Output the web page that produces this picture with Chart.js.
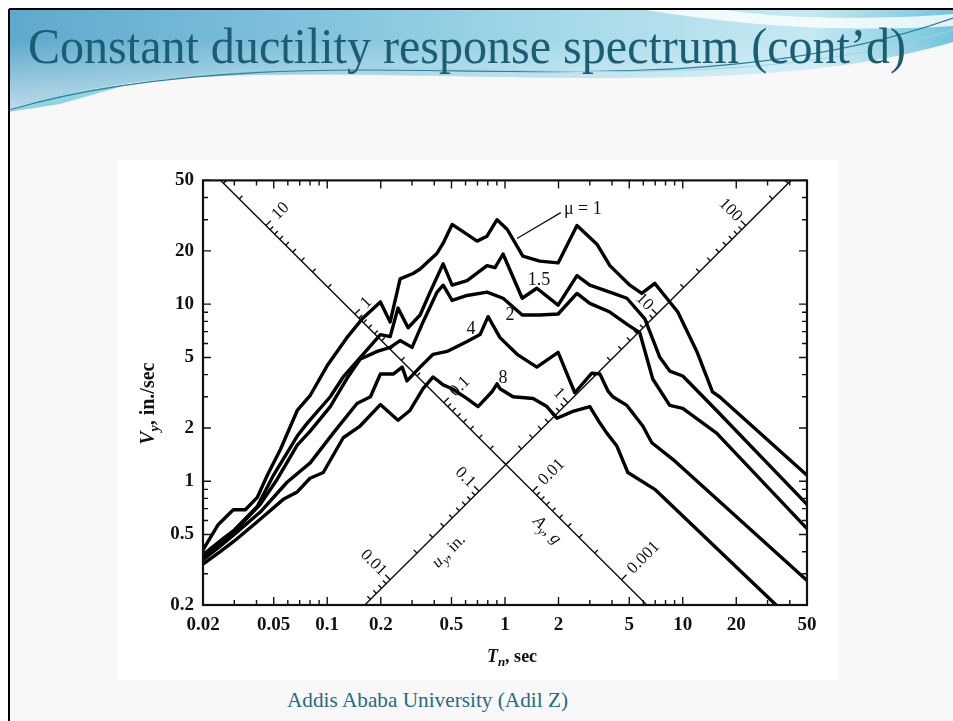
<!DOCTYPE html>
<html>
<head>
<meta charset="utf-8">
<title>Constant ductility response spectrum</title>
<script src="https://cdn.jsdelivr.net/npm/chart.js@4.4.0/dist/chart.umd.min.js"></script>
<style>
  html, body { margin: 0; padding: 0; }
  body { width: 953px; height: 721px; position: relative; overflow: hidden; background: #fff; }
  #slide { position: absolute; left: 0; top: 0; }
  #figure { position: absolute; left: 118px; top: 160px; width: 720px; height: 520px; background: #fff; }
</style>
</head>
<body>
<svg id="slide" width="953" height="721" viewBox="0 0 953 721">
  <defs>
    <linearGradient id="bandFill" x1="0" y1="0" x2="1" y2="0">
      <stop offset="0" stop-color="#5ea9cc"/>
      <stop offset="0.3" stop-color="#7fc0dc"/>
      <stop offset="0.6" stop-color="#a7dae9"/>
      <stop offset="0.85" stop-color="#c6e9f1"/>
      <stop offset="1" stop-color="#72c4dd"/>
    </linearGradient>
    <linearGradient id="bandFade" x1="0" y1="0" x2="0" y2="1">
      <stop offset="0" stop-color="#ffffff" stop-opacity="0"/>
      <stop offset="1" stop-color="#ffffff" stop-opacity="0.6"/>
    </linearGradient>
  </defs>
  <rect x="9" y="9" width="944" height="712" fill="#f8f8f8"/>
  <path d="M9,9 H953 V42 C880,64 780,78 620,78 C460,78 300,70 180,78 C110,83 50,95 9,112 Z" fill="url(#bandFill)"/>
  <path d="M9,40 H953 V42 C880,64 780,78 620,78 C460,78 300,70 180,78 C110,83 50,95 9,112 Z" fill="url(#bandFade)"/>
  <path d="M640,9 C720,22 820,34 953,26 V14 C850,22 760,16 720,9 Z" fill="#ffffff" opacity="0.8"/>
  <path d="M9,112 C40,98 80,90 130,84 L60,104 Z" fill="#8fd6e4"/>
  <path d="M9,110 C90,86 200,70 360,70 C560,70 760,86 953,18" fill="none" stroke="#2f7f98" stroke-width="1.2"/>
  <path d="M20,104 C120,78 260,64 420,68 C620,74 800,78 953,30" fill="none" stroke="#a3d3e0" stroke-width="1"/>
  <line x1="9" y1="9" x2="953" y2="9" stroke="#000" stroke-width="2"/>
  <line x1="9" y1="9" x2="9" y2="721" stroke="#000" stroke-width="2"/>
  <text x="28" y="63" font-family="Liberation Serif, Times New Roman, serif" font-size="51" fill="#1b5d72" textLength="878" lengthAdjust="spacingAndGlyphs">Constant ductility response spectrum (cont’d)</text>
  <text x="287" y="707" font-family="Liberation Serif, Times New Roman, serif" font-size="21" fill="#236b83" textLength="281" lengthAdjust="spacingAndGlyphs">Addis Ababa University (Adil Z)</text>
</svg>
<div id="figure"><canvas id="spectrum" width="720" height="520"></canvas></div>
<script>
const G = 386.1; // in./sec^2

// axis ticks
const periodTicks = [0.02, 0.05, 0.1, 0.2, 0.5, 1, 2, 5, 10, 20, 50];
const velocityTicks = [0.2, 0.5, 1, 2, 5, 10, 20, 50];

// diagonal scales: A_y is printed along u_y = 0.2 in., u_y along A_y = 0.02 g
const accelScaleDisp = 0.2;
const dispScaleAccel = 0.02;
const accelTickLabels = [10, 1, 0.1, 0.01, 0.001];
const dispTickLabels = [0.01, 0.1, 1, 10, 100];

const ductility = ['μ = 1', '1.5', '2', '4', '8'];

// T_n (sec) and V_y (in./sec) for each ductility factor
const tMu1 = [0.02, 0.0244, 0.0296, 0.0346, 0.0404, 0.046, 0.0545, 0.0678, 0.08, 0.1, 0.129, 0.159, 0.199, 0.226, 0.257, 0.304, 0.333, 0.415, 0.449, 0.504, 0.612, 0.697, 0.792, 0.902, 1.03, 1.26, 1.57, 1.99, 2.54, 3.29, 3.89, 5.04, 5.88, 6.96, 8.13, 9.38, 12.0, 14.7, 16.1, 50];
const vMu1 = [0.41, 0.57, 0.69, 0.69, 0.81, 1.08, 1.51, 2.51, 3.04, 4.5, 6.47, 8.36, 10.3, 7.94, 13.9, 14.9, 15.8, 19.4, 22.1, 28.2, 24.8, 22.7, 24.2, 30.0, 26.4, 18.7, 17.5, 17.1, 27.8, 21.8, 16.5, 12.8, 11.5, 13.1, 10.8, 9.03, 5.41, 3.20, 3.00, 1.08];

const tMu15 = [0.02, 0.025, 0.03, 0.0404, 0.0498, 0.0678, 0.0772, 0.104, 0.123, 0.159, 0.199, 0.226, 0.250, 0.285, 0.333, 0.379, 0.449, 0.504, 0.612, 0.792, 0.879, 0.975, 1.25, 1.51, 1.99, 2.54, 3.00, 3.89, 4.85, 6.12, 7.43, 8.45, 10.0, 15.5, 50];
const vMu15 = [0.385, 0.46, 0.53, 0.72, 1.08, 1.80, 2.13, 3.00, 3.88, 5.21, 6.73, 6.56, 9.50, 7.36, 8.69, 11.7, 16.9, 12.8, 13.6, 16.5, 16.1, 19.2, 10.8, 12.3, 9.87, 14.5, 12.8, 11.7, 10.8, 8.25, 5.01, 4.19, 3.93, 2.51, 0.74];

const tMu2 = [0.02, 0.025, 0.03, 0.042, 0.0524, 0.0678, 0.0802, 0.104, 0.129, 0.153, 0.191, 0.226, 0.257, 0.300, 0.346, 0.415, 0.449, 0.504, 0.612, 0.792, 0.975, 1.25, 1.57, 1.99, 2.54, 3.00, 3.89, 4.91, 5.73, 6.78, 8.45, 10.0, 15.5, 50];
const vMu2 = [0.375, 0.45, 0.52, 0.74, 1.03, 1.60, 1.92, 2.64, 3.8, 4.89, 5.41, 5.70, 6.23, 5.70, 7.94, 11.7, 12.8, 10.5, 11.2, 11.7, 10.8, 8.69, 8.69, 8.80, 11.5, 10.1, 9.03, 7.64, 6.90, 3.78, 2.68, 2.58, 1.87, 0.54];

const tMu4 = [0.02, 0.025, 0.03, 0.042, 0.0596, 0.0802, 0.108, 0.147, 0.175, 0.199, 0.235, 0.264, 0.281, 0.333, 0.394, 0.472, 0.612, 0.724, 0.803, 0.937, 1.17, 1.51, 1.99, 2.47, 3.08, 3.42, 3.79, 4.04, 4.85, 5.96, 6.70, 8.79, 50];
const vMu4 = [0.36, 0.43, 0.50, 0.67, 0.99, 1.27, 1.87, 2.75, 3.0, 4.03, 4.03, 4.41, 3.69, 4.41, 5.21, 5.41, 6.15, 6.73, 8.50, 6.47, 5.21, 4.41, 5.34, 3.16, 4.08, 4.03, 3.24, 3.00, 2.68, 2.05, 1.65, 1.33, 0.275];

const tMu8 = [0.02, 0.025, 0.03, 0.0404, 0.0566, 0.0678, 0.08, 0.095, 0.123, 0.153, 0.199, 0.217, 0.250, 0.292, 0.346, 0.394, 0.449, 0.504, 0.612, 0.705, 0.845, 0.902, 0.937, 1.11, 1.44, 1.72, 1.96, 2.41, 3.00, 3.42, 3.74, 4.26, 4.91, 6.96, 33.5];
const vMu8 = [0.34, 0.40, 0.46, 0.59, 0.79, 0.87, 1.04, 1.12, 1.76, 2.05, 2.71, 2.51, 2.21, 2.51, 3.33, 3.88, 3.50, 3.33, 2.93, 2.64, 3.20, 3.55, 3.33, 3.00, 2.93, 2.64, 2.27, 2.48, 2.64, 2.13, 1.87, 1.58, 1.12, 0.90, 0.20];

// where the curve names sit (T, V), and the leader to the mu = 1 curve
const curveLabelAt = [[2.74, 34.2], [1.553, 13.6], [1.067, 8.7], [0.644, 7.2], [0.974, 3.8]];
const leaderFrom = [1.168, 23.5];
const leaderTo = [2.06, 32.9];
const dispTitleAt = 0.031;   // u_y where the "u_y, in." caption is centred
const accelTitleAt = 0.005;  // A_y where the "A_y, g" caption is centred

const family = '"Liberation Serif", "Times New Roman", serif';
const S = Math.SQRT1_2;

const series = [
  { t: tMu1, v: vMu1 }, { t: tMu15, v: vMu15 }, { t: tMu2, v: vMu2 },
  { t: tMu4, v: vMu4 }, { t: tMu8, v: vMu8 }
];

function drawRich(ctx, parts, x, y, angle, align, size, weight) {
  ctx.save();
  ctx.translate(x, y);
  ctx.rotate(angle);
  const fontOf = p => `${p.italic ? 'italic ' : ''}${weight} ${p.sub ? Math.round(size * 0.72) : size}px ${family}`;
  let total = 0;
  parts.forEach(p => { ctx.font = fontOf(p); total += ctx.measureText(p.text).width; });
  let cx = align === 'center' ? -total / 2 : align === 'right' ? -total : 0;
  ctx.textAlign = 'left';
  ctx.textBaseline = 'middle';
  ctx.fillStyle = '#111';
  parts.forEach(p => {
    ctx.font = fontOf(p);
    ctx.fillText(p.text, cx, p.sub ? size * 0.3 : 0);
    cx += ctx.measureText(p.text).width;
  });
  ctx.restore();
}

// point where u_y = d on the constant-A line
function dispPoint(x, y, d) {
  const w = Math.sqrt(dispScaleAccel * G / d);
  return { px: x.getPixelForValue(2 * Math.PI / w), py: y.getPixelForValue(w * d), v: w * d };
}
// point where A_y = a on the constant-D line
function accelPoint(x, y, a) {
  const w = Math.sqrt(a * G / accelScaleDisp);
  return { px: x.getPixelForValue(2 * Math.PI / w), py: y.getPixelForValue(w * accelScaleDisp), v: w * accelScaleDisp };
}

const tripartite = {
  id: 'tripartite',
  beforeDatasetsDraw(chart) {
    const { ctx, chartArea: a, scales: { x, y } } = chart;
    ctx.save();
    ctx.beginPath();
    ctx.rect(a.left, a.top, a.right - a.left, a.bottom - a.top);
    ctx.clip();
    ctx.strokeStyle = '#111';
    ctx.lineWidth = 1.4;

    // constant-D line carrying the A_y scale
    const D = accelScaleDisp;
    ctx.beginPath();
    ctx.moveTo(x.getPixelForValue(2 * Math.PI * D / 50), y.getPixelForValue(50));
    ctx.lineTo(x.getPixelForValue(2 * Math.PI * D / 0.2), y.getPixelForValue(0.2));
    // constant-A line carrying the u_y scale
    const A = dispScaleAccel;
    ctx.moveTo(x.getPixelForValue(2 * Math.PI * 0.2 / (A * G)), y.getPixelForValue(0.2));
    ctx.lineTo(x.getPixelForValue(2 * Math.PI * 50 / (A * G)), y.getPixelForValue(50));
    ctx.stroke();

    ctx.beginPath();
    for (let e = -3; e <= 2; e++) {
      for (let k = 1; k <= 9; k++) {
        const val = k * Math.pow(10, e);
        const len = k === 1 ? 7 : 4.5;
        const p = accelPoint(x, y, val);
        if (p.v >= 0.2 && p.v <= 50) {
          ctx.moveTo(p.px, p.py);
          ctx.lineTo(p.px + len * S, p.py - len * S);
        }
        const q = dispPoint(x, y, val);
        if (q.v >= 0.2 && q.v <= 50) {
          ctx.moveTo(q.px, q.py);
          ctx.lineTo(q.px - len * S, q.py - len * S);
        }
      }
    }
    ctx.stroke();

    ctx.fillStyle = '#111';
    ctx.textBaseline = 'middle';
    ctx.font = `17px ${family}`;
    accelTickLabels.forEach(val => {
      const p = accelPoint(x, y, val);
      ctx.save();
      ctx.translate(p.px + 12 * S, p.py - 12 * S);
      ctx.rotate(-Math.PI / 4);
      ctx.textAlign = 'left';
      ctx.fillText(String(val), 0, 0);
      ctx.restore();
    });
    dispTickLabels.forEach(val => {
      const q = dispPoint(x, y, val);
      ctx.save();
      ctx.translate(q.px - 9 * S, q.py - 9 * S);
      ctx.rotate(Math.PI / 4);
      ctx.textAlign = 'right';
      ctx.fillText(String(val), 0, 0);
      ctx.restore();
    });

    const dt = dispPoint(x, y, dispTitleAt);
    drawRich(ctx, [{ text: 'u', italic: true }, { text: 'y', italic: true, sub: true }, { text: ', in.' }],
      dt.px + 15, dt.py + 15, -Math.PI / 4, 'center', 17, 'normal');
    const at = accelPoint(x, y, accelTitleAt);
    drawRich(ctx, [{ text: 'A', italic: true }, { text: 'y', italic: true, sub: true }, { text: ', ' }, { text: 'g', italic: true }],
      at.px - 12.5, at.py + 12.5, Math.PI / 4, 'center', 17, 'normal');
    ctx.restore();
  },
  afterDatasetsDraw(chart) {
    const { ctx, chartArea: a, scales: { x, y } } = chart;
    ctx.save();
    ctx.strokeStyle = '#111';

    // inward ticks on all four sides
    ctx.lineWidth = 1.4;
    ctx.beginPath();
    for (let e = -2; e <= 1; e++) {
      for (let k = 1; k <= 9; k++) {
        const val = k * Math.pow(10, e);
        if (val < 0.02 - 1e-9 || val > 50 + 1e-9) continue;
        const len = periodTicks.some(t => Math.abs(t - val) < 1e-9) ? 8 : 5;
        const px = x.getPixelForValue(val);
        ctx.moveTo(px, a.bottom); ctx.lineTo(px, a.bottom - len);
        ctx.moveTo(px, a.top); ctx.lineTo(px, a.top + len);
      }
    }
    for (let e = -1; e <= 1; e++) {
      for (let k = 1; k <= 9; k++) {
        const val = k * Math.pow(10, e);
        if (val < 0.2 - 1e-9 || val > 50 + 1e-9) continue;
        const len = velocityTicks.some(t => Math.abs(t - val) < 1e-9) ? 8 : 5;
        const py = y.getPixelForValue(val);
        ctx.moveTo(a.left, py); ctx.lineTo(a.left + len, py);
        ctx.moveTo(a.right, py); ctx.lineTo(a.right - len, py);
      }
    }
    ctx.stroke();

    ctx.lineWidth = 2.2;
    ctx.strokeRect(a.left, a.top, a.right - a.left, a.bottom - a.top);

    // curve names
    ctx.lineWidth = 1.3;
    ctx.beginPath();
    ctx.moveTo(x.getPixelForValue(leaderFrom[0]), y.getPixelForValue(leaderFrom[1]));
    ctx.lineTo(x.getPixelForValue(leaderTo[0]), y.getPixelForValue(leaderTo[1]));
    ctx.stroke();
    ctx.fillStyle = '#111';
    ctx.font = `18px ${family}`;
    ctx.textAlign = 'center';
    ctx.textBaseline = 'middle';
    ductility.forEach((name, i) => {
      ctx.fillText(name, x.getPixelForValue(curveLabelAt[i][0]), y.getPixelForValue(curveLabelAt[i][1]));
    });

    // axis titles
    drawRich(ctx, [{ text: 'T', italic: true }, { text: 'n', italic: true, sub: true }, { text: ', sec' }],
      (a.left + a.right) / 2 + 7, a.bottom + 52, 0, 'center', 18, 'bold');
    drawRich(ctx, [{ text: 'V', italic: true }, { text: 'y', italic: true, sub: true }, { text: ', in./sec' }],
      a.left - 54, (a.top + a.bottom) / 2 + 11, -Math.PI / 2, 'center', 20, 'bold');
    ctx.restore();
  }
};

const tickFont = { family: family, size: 19, weight: 'bold' };

new Chart(document.getElementById('spectrum'), {
  type: 'scatter',
  data: {
    datasets: series.map((s, i) => ({
      label: ductility[i],
      data: s.t.map((t, j) => ({ x: t, y: s.v[j] })),
      showLine: true,
      borderColor: '#000',
      borderWidth: 3.4,
      borderJoinStyle: 'round',
      borderCapStyle: 'round',
      pointRadius: 0,
      tension: 0,
      fill: false
    }))
  },
  options: {
    responsive: false,
    animation: false,
    devicePixelRatio: 1,
    layout: { padding: { top: 13, right: 31, left: 0, bottom: 0 } },
    plugins: { legend: { display: false }, tooltip: { enabled: false } },
    scales: {
      x: {
        type: 'logarithmic',
        min: 0.02,
        max: 50,
        grid: { display: false, drawTicks: false },
        border: { display: false },
        afterBuildTicks: s => { s.ticks = periodTicks.map(v => ({ value: v })); },
        afterFit: s => { s.height = 75; },
        ticks: { callback: v => String(v), font: tickFont, color: '#111', padding: 9, maxRotation: 0, autoSkip: false }
      },
      y: {
        type: 'logarithmic',
        min: 0.2,
        max: 50,
        grid: { display: false, drawTicks: false },
        border: { display: false },
        afterBuildTicks: s => { s.ticks = velocityTicks.map(v => ({ value: v })); },
        afterFit: s => { s.width = 85; },
        ticks: { callback: v => String(v), font: tickFont, color: '#111', padding: 9, autoSkip: false }
      }
    }
  },
  plugins: [tripartite]
});
</script>
</body>
</html>
